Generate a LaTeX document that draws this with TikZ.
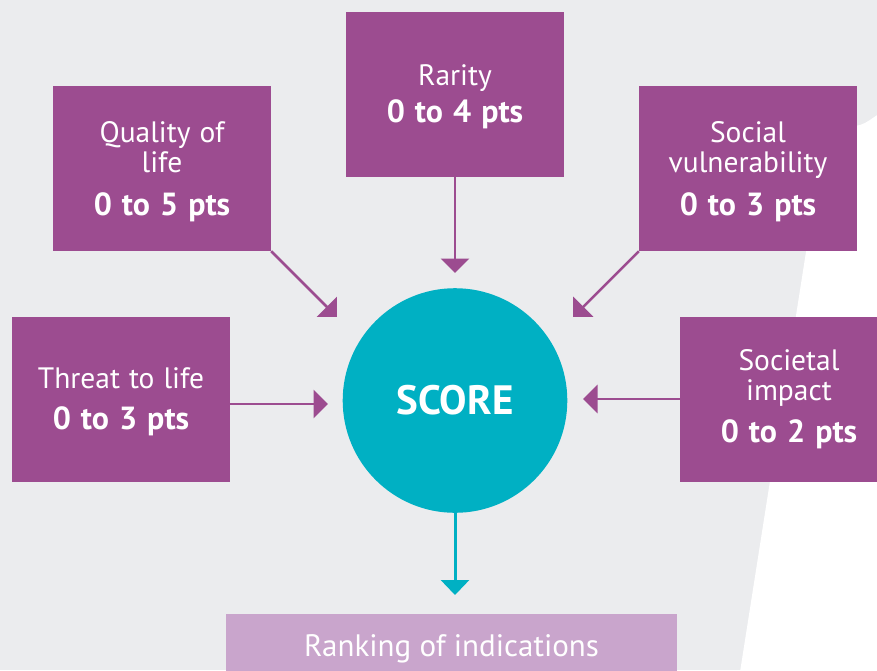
\documentclass[tikz,border=0pt]{standalone}
\usepackage{fontspec}
\setmainfont{PT Sans}
\usetikzlibrary{arrows.meta}

\definecolor{pplcol}{HTML}{9C4C90}
\definecolor{tealcol}{HTML}{00B0C3}
\definecolor{lilac}{HTML}{C9A5CC}
\definecolor{bgcol}{HTML}{EBECEE}

% regular and bold text of the factor boxes, with slightly wider word spacing
\newcommand{\factorfont}{\fontsize{29.5}{30}\selectfont\spaceskip 9pt\relax}
\newcommand{\ptstext}[1]{{\fontsize{32}{30}\selectfont\bfseries\spaceskip 10pt\relax #1}}

\tikzset{
  factorbox/.style={fill=pplcol, text=white, inner sep=0pt, align=center,
    minimum width=218pt, minimum height=165pt, font={\factorfont}},
  scorenode/.style={circle, fill=tealcol, text=white, inner sep=0pt,
    minimum size=224.6pt, font={\fontsize{41}{42}\selectfont\bfseries}},
  rankbox/.style={fill=lilac, text=white, inner sep=0pt,
    minimum width=451pt, minimum height=62.6pt, text height=22.7pt, text depth=0pt,
    font={\fontsize{31}{32}\selectfont}},
  link/.style={draw=pplcol, line width=2.5pt, -{Triangle[width=28pt,length=14.5pt]}},
  outlink/.style={draw=tealcol, line width=3pt, -{Triangle[width=28pt,length=15pt]}},
}

\begin{document}
\begin{tikzpicture}[x=1pt, y=-1pt]
  % canvas
  \clip (0,0) rectangle (877,670);
  \fill[bgcol] (0,0) rectangle (877,670);
  % white sweep on the right
  \fill[white] (740,672) -- (822,150)
    .. controls (826,128) and (845,128) .. (860,125)
    .. controls (867,123) and (872,118) .. (879,114) -- (879,672) -- cycle;

  % central score
  \node[scorenode] (score) at (455,400.5) {SCORE};

  % scoring factors
  \node[factorbox] (rarity) at (455,94.2)
    {\rule{0pt}{25pt}Rarity\\[7pt]\ptstext{0 to 4 pts}};
  \node[factorbox] (quality) at (162,168.5)
    {\rule{0pt}{27pt}Quality of\\life\\[13pt]\ptstext{0 to 5 pts}};
  \node[factorbox] (social) at (748,168.5)
    {\rule{0pt}{27pt}Social\\vulnerability\\[12.4pt]\ptstext{0 to 3 pts}};
  \node[factorbox] (threat) at (121,399.2)
    {\rule{0pt}{25pt}Threat to life\\[11pt]\ptstext{0 to 3 pts}};
  \node[factorbox] (societal) at (789,399.2)
    {Societal\\impact\\[12.4pt]\ptstext{0 to 2 pts}};

  % outcome
  \node[rankbox] (rank) at (451.5,645.6) {Ranking of indications};

  % arrow tips
  \coordinate (rtip) at (455,273);
  \coordinate (qtip) at (337,317);
  \coordinate (stip) at (573,317);
  \coordinate (ttip) at (328,404);
  \coordinate (ctip) at (583,399);
  \coordinate (otip) at (455,595);

  % connectors
  \draw[link] (rarity.south) -- (rtip);
  \draw[link] (quality.south east) -- (qtip);
  \draw[link] (social.south west) -- (stip);
  \draw[link] (threat.east |- ttip) -- (ttip);
  \draw[link] (societal.west |- ctip) -- (ctip);
  \draw[outlink] (score.south) -- (otip);
\end{tikzpicture}
\end{document}
